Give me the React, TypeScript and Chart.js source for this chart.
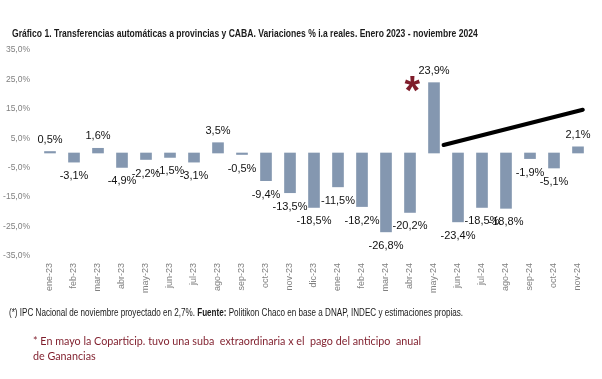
import React, { useEffect, useRef } from "react";
import { Chart, registerables } from "chart.js";

Chart.register(...registerables);

const categories = [
  "ene-23", "feb-23", "mar-23", "abr-23", "may-23", "jun-23", "jul-23", "ago-23",
  "sep-23", "oct-23", "nov-23", "dic-23", "ene-24", "feb-24", "mar-24", "abr-24",
  "may-24", "jun-24", "jul-24", "ago-24", "sep-24", "oct-24", "nov-24",
];

const variaciones = [
  0.5, -3.1, 1.6, -4.9, -2.2, -1.5, -3.1, 3.5, -0.5, -9.4, -13.5, -18.5,
  -11.5, -18.2, -26.8, -20.2, 23.9, -23.4, -18.5, -18.8, -1.9, -5.1, 2.1,
];

const yTicks = [35, 25, 15, 5, -5, -15, -25, -35];

// hand-drawn annotation line (category index, % value)
const trendX = [16.4, 22.2];
const trendY = [2.7, 14.7];

// red asterisk marker (category index, % value)
const starX = [15.1];
const starY = [23];

const fmt = (v: number) => v.toFixed(1).replace(".", ",") + "%";

const BAR = "#8497b0";
const RED = "#7f1d2b";

const labelPlugin = {
  id: "barLabels",
  afterDatasetsDraw(chart: any) {
    const ctx = chart.ctx;
    const meta = chart.getDatasetMeta(0);
    ctx.save();
    ctx.font = "11px 'Liberation Sans', Arial, sans-serif";
    ctx.fillStyle = "#111";
    ctx.textAlign = "center";
    ctx.textBaseline = "middle";
    meta.data.forEach((el: any, i: number) => {
      const v = variaciones[i];
      const y = v >= 0 ? el.y - 12 : el.y + 14;
      ctx.fillText(fmt(v), el.x, y);
    });
    // asterisk
    const xs = chart.scales.x2;
    const ys = chart.scales.y;
    ctx.fillStyle = RED;
    ctx.font = "bold 40px 'Liberation Sans', Arial, sans-serif";
    ctx.textBaseline = "middle";
    starX.forEach((sx, i) => {
      ctx.fillText("*", xs.getPixelForValue(sx), ys.getPixelForValue(starY[i]) + 8);
    });
    ctx.restore();
  },
};

export default function App() {
  const ref = useRef<HTMLCanvasElement | null>(null);
  useEffect(() => {
    if (!ref.current) return;
    const chart = new Chart(ref.current, {
      type: "bar",
      data: {
        labels: categories,
        datasets: [
          {
            type: "bar",
            data: variaciones,
            backgroundColor: BAR,
            barThickness: 11,
            grouped: false,
            xAxisID: "x",
            yAxisID: "y",
          } as any,
          {
            type: "line",
            data: trendX.map((x, i) => ({ x, y: trendY[i] })),
            borderColor: "#000",
            borderWidth: 4,
            borderCapStyle: "round",
            pointRadius: 0,
            xAxisID: "x2",
            yAxisID: "y",
          } as any,
        ],
      },
      options: {
        animation: false,
        responsive: false,
        maintainAspectRatio: false,
        layout: { padding: { left: 0, right: 12, top: 50, bottom: 0 } },
        plugins: { legend: { display: false }, tooltip: { enabled: false } },
        scales: {
          x: {
            type: "category",
            offset: true,
            grid: { display: false, drawTicks: false },
            border: { display: false },
            ticks: {
              minRotation: 90,
              maxRotation: 90,
              padding: 7,
              color: "#808080",
              font: { size: 9, family: "'Liberation Sans', Arial, sans-serif" },
            },
            afterFit: (s: any) => { s.height = 123; },
          },
          x2: {
            type: "linear",
            display: false,
            offset: false,
            grid: { offset: false },
            min: -0.5,
            max: 22.5,
          },
          y: {
            min: -35,
            max: 35,
            grid: { display: false, drawTicks: false },
            border: { display: false },
            afterBuildTicks: (s: any) => {
              s.ticks = yTicks.map((v) => ({ value: v }));
            },
            ticks: {
              padding: 8,
              color: "#808080",
              font: { size: 8.5, family: "'Liberation Sans', Arial, sans-serif" },
              callback: (v: any) => fmt(Number(v)),
            },
            afterFit: (s: any) => { s.width = 38; },
          },
        },
      },
      plugins: [labelPlugin],
    });
    return () => chart.destroy();
  }, []);

  return (
    <div style={{ position: "fixed", left: 0, top: 0, width: 602, height: 379, background: "#fff", overflow: "hidden" }}>
      <canvas ref={ref} width={602} height={379} style={{ position: "absolute", left: 0, top: 0, width: 602, height: 379 }} />
      <div
        style={{
          position: "absolute", left: 12, top: 26, whiteSpace: "nowrap",
          fontFamily: "'Liberation Sans', Arial, sans-serif",
          fontWeight: "bold", fontSize: 10.5, color: "#1a1a1a", lineHeight: "14px",
          transform: "scaleX(0.816)", transformOrigin: "0 0",
        }}
      >
        Gráfico 1. Transferencias automáticas a provincias y CABA. Variaciones % i.a reales. Enero 2023 - noviembre 2024
      </div>
      <div
        style={{
          position: "absolute", left: 9, top: 306, whiteSpace: "nowrap",
          fontFamily: "'Liberation Sans', Arial, sans-serif",
          fontSize: 10, color: "#1a1a1a", lineHeight: "13px",
          transform: "scaleX(0.81)", transformOrigin: "0 0",
        }}
      >
        (*) IPC Nacional de noviembre proyectado en 2,7%. <b>Fuente:</b> Politikon Chaco en base a DNAP, INDEC y estimaciones propias.
      </div>
      <div
        style={{
          position: "absolute", left: 33, top: 333, whiteSpace: "pre",
          fontFamily: "Lato, 'Open Sans', sans-serif",
          fontSize: 10.75, color: RED, lineHeight: "15px",
        }}
      >
        {"* En mayo la Coparticip. tuvo una suba  extraordinaria x el  pago del anticipo  anual\nde Ganancias"}
      </div>
    </div>
  );
}
